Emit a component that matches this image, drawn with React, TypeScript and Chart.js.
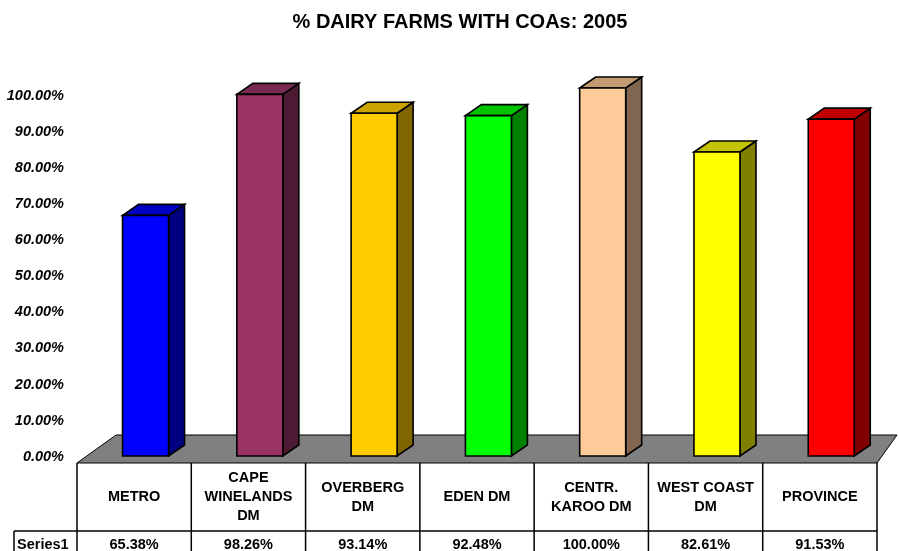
import React, { useEffect, useRef } from "react";
import { Chart, registerables } from "chart.js";

Chart.register(...registerables);

const FONT = "'Liberation Sans', Arial, Helvetica, sans-serif";

const chartTitle = "% DAIRY FARMS WITH COAs: 2005";
const categories: string[][] = [
  ["METRO"],
  ["CAPE", "WINELANDS", "DM"],
  ["OVERBERG", "DM"],
  ["EDEN DM"],
  ["CENTR.", "KAROO DM"],
  ["WEST COAST", "DM"],
  ["PROVINCE"],
];
const seriesName = "Series1";
const values = [65.38, 98.26, 93.14, 92.48, 100.0, 82.61, 91.53];
const yTickValues = [0, 10, 20, 30, 40, 50, 60, 70, 80, 90, 100];
const frontColors = ["#0000FF", "#993366", "#FFCC00", "#00FF00", "#FFCC99", "#FFFF00", "#FF0000"];
const topColors = ["#0000C4", "#7A2952", "#CCA300", "#00C400", "#C49A70", "#C4C400", "#C00000"];
const sideColors = ["#000080", "#4C1A33", "#806600", "#008000", "#806650", "#808000", "#800000"];

const DEPTH_X = 16;
const DEPTH_Y = 11;
const BAR_SHIFT = 11.4;
const FLOOR_DROP = 7;
const FLOOR_DEPTH = 28;

const fmt = (v: number) => v.toFixed(2) + "%";

const threeD = {
  id: "threeD",
  beforeDatasetsDraw(chart: any) {
    const { ctx, chartArea: a } = chart;
    const fy = a.bottom + FLOOR_DROP;
    ctx.save();
    ctx.beginPath();
    ctx.moveTo(a.left, fy);
    ctx.lineTo(a.right, fy);
    ctx.lineTo(a.right + 20, fy - FLOOR_DEPTH);
    ctx.lineTo(a.left + 39, fy - FLOOR_DEPTH);
    ctx.closePath();
    ctx.fillStyle = "#808080";
    ctx.fill();
    ctx.strokeStyle = "#000";
    ctx.lineWidth = 1;
    ctx.stroke();
    ctx.restore();
  },
  afterDatasetsDraw(chart: any) {
    const { ctx } = chart;
    const meta = chart.getDatasetMeta(0);
    ctx.save();
    ctx.lineWidth = 1.6;
    ctx.strokeStyle = "#000";
    ctx.lineJoin = "miter";
    meta.data.forEach((el: any, i: number) => {
      const { x, y, base, width } = el.getProps(["x", "y", "base", "width"], true);
      const l = x + BAR_SHIFT - width / 2;
      const r = l + width;
      // side face
      ctx.beginPath();
      ctx.moveTo(r, y);
      ctx.lineTo(r + DEPTH_X, y - DEPTH_Y);
      ctx.lineTo(r + DEPTH_X, base - DEPTH_Y);
      ctx.lineTo(r, base);
      ctx.closePath();
      ctx.fillStyle = sideColors[i];
      ctx.fill();
      ctx.stroke();
      // top face
      ctx.beginPath();
      ctx.moveTo(l, y);
      ctx.lineTo(l + DEPTH_X, y - DEPTH_Y);
      ctx.lineTo(r + DEPTH_X, y - DEPTH_Y);
      ctx.lineTo(r, y);
      ctx.closePath();
      ctx.fillStyle = topColors[i];
      ctx.fill();
      ctx.stroke();
      // front face
      ctx.beginPath();
      ctx.rect(l, y, width, base - y);
      ctx.fillStyle = frontColors[i];
      ctx.fill();
      ctx.stroke();
    });
    ctx.restore();
  },
  afterDraw(chart: any) {
    const { ctx, chartArea: a, height: H } = chart;
    const xs = chart.scales.x;
    const n = categories.length;
    const colW = (a.right - a.left) / n;
    const top = a.bottom + FLOOR_DROP;
    const rowBottom = top + 68;
    const valueY = rowBottom + 14;
    const lineH = 19;
    ctx.save();
    // title
    ctx.fillStyle = "#000";
    ctx.font = `bold 20px ${FONT}`;
    ctx.textAlign = "center";
    ctx.textBaseline = "middle";
    ctx.fillText(chartTitle, 460, 22.5);

    ctx.strokeStyle = "#000";
    ctx.lineWidth = 1.5;
    ctx.beginPath();
    for (let i = 0; i <= n; i++) {
      const vx = a.left + i * colW;
      ctx.moveTo(vx, top);
      ctx.lineTo(vx, H + 2);
    }
    ctx.moveTo(14, rowBottom);
    ctx.lineTo(a.right, rowBottom);
    ctx.moveTo(14, rowBottom);
    ctx.lineTo(14, H + 2);
    ctx.stroke();

    ctx.font = `bold 14.5px ${FONT}`;
    const headerMid = (top + rowBottom) / 2;
    categories.forEach((lines, i) => {
      const cx = xs.getPixelForValue(i);
      lines.forEach((t, j) => {
        ctx.fillText(t, cx, headerMid + (j - (lines.length - 1) / 2) * lineH);
      });
      ctx.fillText(fmt(values[i]), cx, valueY);
    });
    ctx.textAlign = "left";
    ctx.fillText(seriesName, 17, valueY);
    ctx.restore();
  },
};

export default function App() {
  const ref = useRef<HTMLCanvasElement | null>(null);
  useEffect(() => {
    document.body.style.margin = "0";
    const canvas = ref.current;
    if (!canvas) return;
    const chart = new Chart(canvas, {
      type: "bar",
      data: {
        labels: categories.map((c) => c.join(" ")),
        datasets: [
          {
            label: seriesName,
            data: values,
            yAxisID: "y",
            backgroundColor: "rgba(0,0,0,0)",
            borderWidth: 0,
            categoryPercentage: 1,
            barPercentage: 0.4025,
          },
        ],
      },
      options: {
        responsive: false,
        animation: false,
        devicePixelRatio: 1,
        layout: { padding: { left: 0, right: 22, top: 88, bottom: 95 } },
        plugins: {
          legend: { display: false },
          tooltip: { enabled: false },
          title: { display: false },
        },
        scales: {
          x: { display: false },
          y: { display: false, min: 0, max: 100 },
          yLabels: {
            position: "left",
            min: 0,
            max: 101.94,
            afterFit: (scale: any) => {
              scale.width = 77;
            },
            afterBuildTicks: (scale: any) => {
              scale.ticks = yTickValues.map((v) => ({ value: v }));
            },
            grid: { display: false, drawTicks: false },
            border: { display: false },
            ticks: {
              padding: 13,
              labelOffset: 0.7,
              autoSkip: false,
              color: "#000",
              font: { family: FONT, size: 14.5, weight: "bold", style: "italic" },
              callback: (v: any) => fmt(Number(v)),
            },
          },
        },
      },
      plugins: [threeD],
    });
    return () => chart.destroy();
  }, []);
  return (
    <div style={{ width: 899, height: 551, overflow: "hidden", background: "#fff" }}>
      <canvas ref={ref} width={899} height={551} style={{ display: "block" }} />
    </div>
  );
}
